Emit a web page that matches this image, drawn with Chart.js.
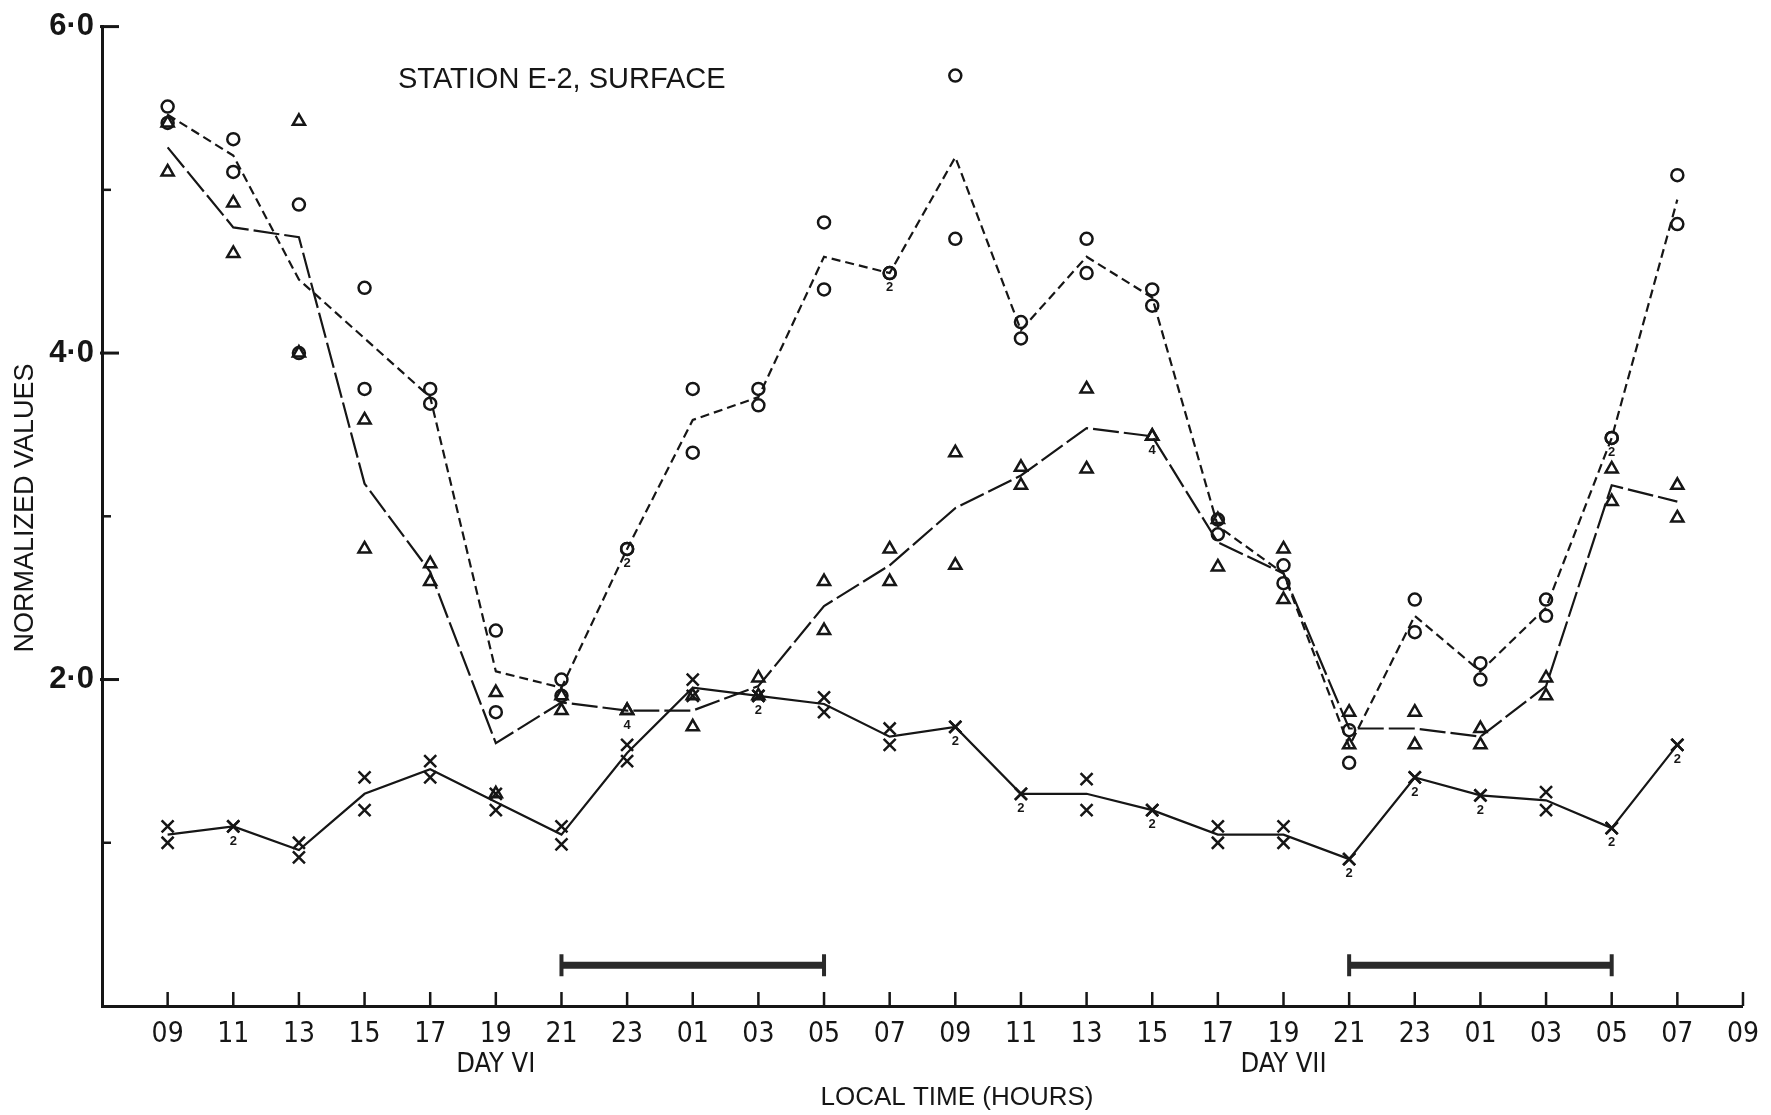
<!DOCTYPE html>
<html>
<head>
<meta charset="utf-8">
<title>Station E-2, surface</title>
<script src="https://cdn.jsdelivr.net/npm/chart.js@4"></script>
<style>
  html, body { margin: 0; padding: 0; background: #ffffff; }
  #wrap { width: 1771px; height: 1115px; }
</style>
</head>
<body>
<div id="wrap"><canvas id="c" width="1771" height="1115"></canvas></div>
<script>
// Sampling hours, two days (VI and VII), every two hours
const hourLabels = ['09','11','13','15','17','19','21','23','01','03','05','07',
                    '09','11','13','15','17','19','21','23','01','03','05','07','09'];

// Replicate samples, circle series
const circleRunA = [5.51, 5.31, 4.91, 4.40, 3.78, 2.30, 2.00, 2.80, 3.78, 3.78, 4.80, 4.49,
                    5.70, 4.19, 4.70, 4.39, 2.98, 2.70, 1.69, 2.49, 2.10, 2.49, 3.48, 5.09];
const circleRunB = [5.41, 5.11, 4.00, 3.78, 3.69, 1.80, 1.90, 2.80, 3.39, 3.68, 4.39, 4.49,
                    4.70, 4.09, 4.49, 4.29, 2.89, 2.59, 1.49, 2.29, 2.00, 2.39, 3.48, 4.79];
const circleMean = [5.46, 5.21, 4.45, 4.09, 3.73, 2.05, 1.95, 2.80, 3.59, 3.73, 4.59, 4.49,
                    5.20, 4.14, 4.59, 4.34, 2.94, 2.65, 1.59, 2.39, 2.05, 2.44, 3.48, 4.94];

// Replicate samples, triangle series
const triangleRunA = [5.41, 4.92, 5.42, 3.59, 2.71, 1.92, 1.90, 1.81, 1.90, 2.01, 2.60, 2.80,
                      3.39, 3.30, 3.78, 3.49, 2.98, 2.80, 1.80, 1.80, 1.70, 2.01, 3.29, 3.19];
const triangleRunB = [5.11, 4.61, 4.00, 2.80, 2.60, 1.30, 1.81, 1.81, 1.71, 1.90, 2.30, 2.60,
                      2.70, 3.19, 3.29, 3.49, 2.69, 2.49, 1.60, 1.60, 1.60, 1.90, 3.09, 2.99];
const triangleMean = [5.26, 4.77, 4.71, 3.20, 2.66, 1.61, 1.86, 1.81, 1.81, 1.96, 2.45, 2.70,
                      3.05, 3.25, 3.54, 3.49, 2.84, 2.65, 1.70, 1.70, 1.65, 1.96, 3.19, 3.09];

// Replicate samples, cross series
const crossRunA = [1.10, 1.10, 1.00, 1.40, 1.50, 1.30, 1.10, 1.60, 2.00, 1.90, 1.89, 1.70,
                   1.71, 1.30, 1.39, 1.20, 1.10, 1.10, 0.90, 1.40, 1.29, 1.31, 1.09, 1.60];
const crossRunB = [1.00, 1.10, 0.91, 1.20, 1.40, 1.20, 0.99, 1.50, 1.90, 1.90, 1.80, 1.60,
                   1.71, 1.30, 1.20, 1.20, 1.00, 1.00, 0.90, 1.40, 1.29, 1.20, 1.09, 1.60];
const crossMean = [1.05, 1.10, 0.955, 1.30, 1.45, 1.25, 1.05, 1.55, 1.95, 1.90, 1.85, 1.65,
                   1.71, 1.30, 1.30, 1.20, 1.05, 1.05, 0.90, 1.40, 1.29, 1.26, 1.09, 1.60];

// Coincident-point counts written under the marks
const circleTallyAt = [7, 11, 22];
const triangleTallyAt = [7, 15];
const crossTallyAt = [1, 9, 12, 13, 15, 18, 19, 20, 22, 23];

// Hours of darkness
const nightStart = [6, 18];
const nightEnd = [10, 22];
const nightLevel = 0.25;

// Axis marks
const yMajor = [2, 4, 6];
const yMajorText = ['2·0', '4·0', '6·0'];
const yMinor = [1, 3, 5];
const dayLabels = ['DAY VI', 'DAY VII'];
const dayLabelAt = [5, 17];

const ink = '#161616';
const narrow = '"Liberation Sans Narrow", "DejaVu Sans Condensed", "Liberation Sans", sans-serif';
const plain = '"Liberation Sans", "DejaVu Sans", sans-serif';

const pts = arr => arr.map((v, i) => ({ x: i, y: v }));
const pair = (a, b) => pts(a).concat(pts(b));

const lineSet = (data, dash) => ({
  data: pts(data), showLine: true, borderColor: ink, borderWidth: 2.2,
  borderDash: dash, pointRadius: 0, fill: false, tension: 0
});
const markSet = (data, style, radius) => ({
  data, showLine: false, pointStyle: style, pointRadius: radius,
  borderColor: ink, backgroundColor: 'rgba(0,0,0,0)', pointBorderWidth: 2.5
});
const nightSets = nightStart.map((s, k) => ({
  data: [{ x: s, y: nightLevel }, { x: nightEnd[k], y: nightLevel }],
  showLine: true, borderColor: '#2a2a2a', borderWidth: 7,
  pointStyle: 'line', pointRotation: 90, pointRadius: 11,
  pointBorderWidth: 4, pointBorderColor: '#2a2a2a'
}));

const decorations = {
  id: 'decorations',
  afterDraw(chart) {
    const { ctx, chartArea: a, scales: { x, y } } = chart;
    ctx.save();
    ctx.strokeStyle = ink;
    ctx.fillStyle = ink;
    ctx.lineCap = 'butt';
    const seg = (x1, y1, x2, y2, w) => {
      ctx.lineWidth = w; ctx.beginPath(); ctx.moveTo(x1, y1); ctx.lineTo(x2, y2); ctx.stroke();
    };
    // hour ticks rise from the time axis
    hourLabels.forEach((_, i) => {
      const px = x.getPixelForValue(i);
      seg(px, a.bottom, px, a.bottom - 14, 2.5);
    });
    // value ticks point into the plot
    yMajor.forEach(v => { const py = y.getPixelForValue(v); seg(a.left - 2, py, a.left + 17, py, 3); });
    yMinor.forEach(v => { const py = y.getPixelForValue(v); seg(a.left, py, a.left + 9, py, 2.5); });

    // counts of coincident samples
    ctx.font = 'bold 13px ' + plain;
    ctx.textAlign = 'center';
    ctx.textBaseline = 'top';
    const tally = (idx, a1, b1, text) => idx.forEach(i => {
      ctx.fillText(text, x.getPixelForValue(i), y.getPixelForValue(Math.min(a1[i], b1[i])) + 8);
    });
    tally(circleTallyAt, circleRunA, circleRunB, '2');
    tally(triangleTallyAt, triangleRunA, triangleRunB, '4');
    tally(crossTallyAt, crossRunA, crossRunB, '2');

    // headings and axis captions
    ctx.textBaseline = 'middle';
    ctx.font = '29px ' + plain;
    ctx.textAlign = 'left';
    ctx.fillText('STATION E-2, SURFACE', 398, 80);

    ctx.font = '27px ' + narrow;
    ctx.textAlign = 'center';
    dayLabels.forEach((t, k) => ctx.fillText(t, x.getPixelForValue(dayLabelAt[k]), 1065));
    ctx.font = '26px ' + plain;
    ctx.fillText('LOCAL TIME (HOURS)', 957, 1098);

    ctx.font = '27px ' + plain;
    ctx.translate(26, 508);
    ctx.rotate(-Math.PI / 2);
    ctx.fillText('NORMALIZED VALUES', 0, 0);
    ctx.restore();
  }
};

new Chart(document.getElementById('c'), {
  type: 'scatter',
  data: {
    datasets: [
      lineSet(circleMean, [9, 5]),
      lineSet(triangleMean, [26, 5]),
      lineSet(crossMean, []),
      markSet(pair(circleRunA, circleRunB), 'circle', 6),
      markSet(pair(triangleRunA, triangleRunB), 'triangle', 7),
      markSet(pair(crossRunA, crossRunB), 'crossRot', 8.5),
      ...nightSets
    ]
  },
  options: {
    responsive: false,
    animation: false,
    devicePixelRatio: 1,
    layout: { padding: { top: 23, right: 26, left: 0, bottom: 0 } },
    plugins: { legend: { display: false }, tooltip: { enabled: false } },
    scales: {
      x: {
        type: 'linear', min: -1, max: 24,
        afterBuildTicks: s => { s.ticks = hourLabels.map((_, i) => ({ value: i })); },
        afterFit: s => { s.height = 109; },
        grid: { display: false, drawTicks: false },
        border: { display: true, width: 3, color: ink },
        ticks: {
          autoSkip: false, maxRotation: 0, padding: 12, color: ink,
          font: { family: narrow, size: 28 },
          callback: v => hourLabels[v] ?? ''
        }
      },
      y: {
        type: 'linear', min: 0, max: 6,
        afterBuildTicks: s => { s.ticks = yMajor.map(v => ({ value: v })); },
        afterFit: s => { s.width = 102; },
        grid: { display: false, drawTicks: false },
        border: { display: true, width: 3, color: ink },
        ticks: {
          padding: 8, color: ink,
          font: { family: plain, size: 31, weight: 'bold' },
          callback: v => yMajorText[yMajor.indexOf(v)] ?? ''
        }
      }
    }
  },
  plugins: [decorations]
});
</script>
</body>
</html>
